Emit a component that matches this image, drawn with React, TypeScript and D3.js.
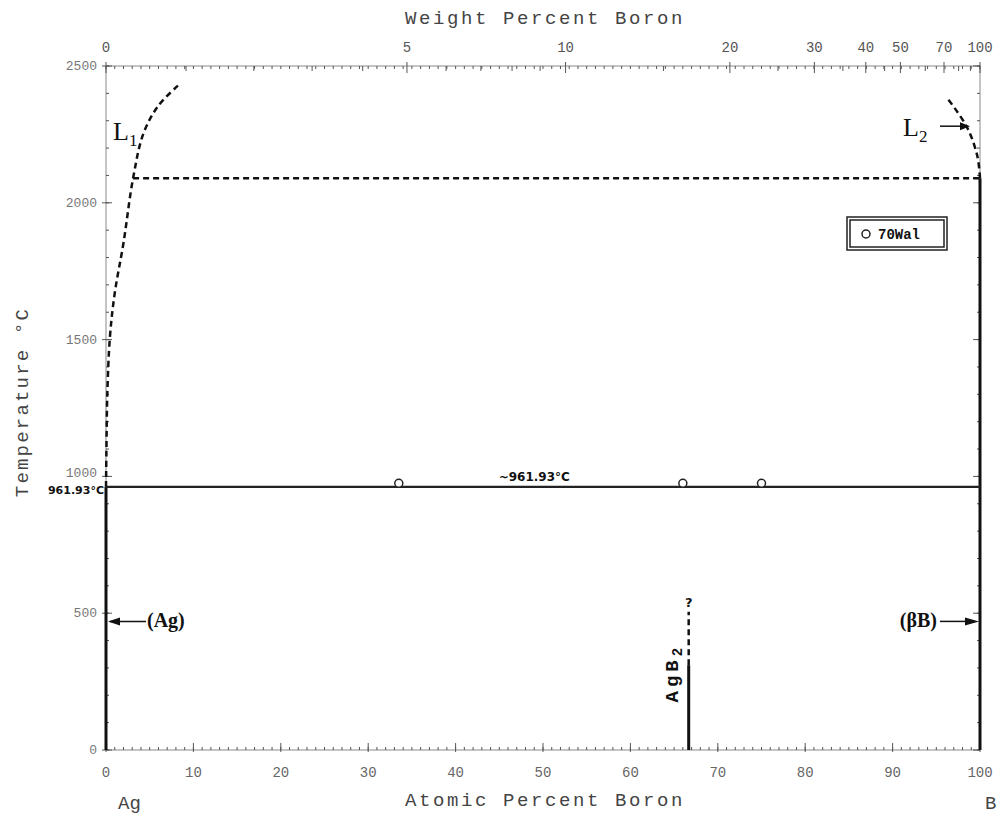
import React, { useEffect, useRef } from 'react';
import * as d3 from 'd3';

// atomic percent ticks (bottom)
const atTicks = [0, 10, 20, 30, 40, 50, 60, 70, 80, 90, 100];
// weight percent ticks (top)
const wtTicks = [0, 5, 10, 20, 30, 40, 50, 70, 100];
const wtMinor = [1, 2, 3, 4, 6, 7, 8, 9, 15, 25, 35, 45, 60, 80, 90];
const tempTicks = [0, 500, 1000, 1500, 2000, 2500];

// phase boundaries [at% B, °C]
const liquidusL1 = [[0, 961.93], [0.05, 1100], [0.15, 1300], [0.45, 1510], [1.0, 1670], [2.0, 1853], [3.1, 2090], [4.3, 2255], [6.0, 2355], [8.3, 2430]];
const liquidusL2 = [[100, 2090], [99.7, 2170], [98.5, 2277], [96.2, 2385]];
const monotectic = [[3.1, 2090], [100, 2090]];
const eutectic = [[0, 961.93], [100, 961.93]];
const agSolid = [[0, 0], [0, 961.93]];
const bSolid = [[100, 0], [100, 2090]];
const agb2Solid = [[66.67, 0], [66.67, 310]];
const agb2Dashed = [[66.67, 310], [66.67, 505]];
const wal70 = [[33.5, 975], [66, 975], [75, 975]];

const AG = 107.87, B = 10.81;
const wtToAt = (w: number) => {
  if (w >= 100) return 100;
  const b = w / B, a = (100 - w) / AG;
  return (100 * b) / (a + b);
};

const App = () => {
  const svgRef = useRef<SVGSVGElement>(null);

  useEffect(() => {
    const svg = d3.select(svgRef.current);
    svg.selectAll('*').remove();

    const x = d3.scaleLinear().domain([0, 100]).range([106, 980]);
    const y = d3.scaleLinear().domain([0, 2500]).range([750, 66]);
    const line = d3.line<number[]>().x(d => x(d[0])).y(d => y(d[1]));
    const curve = d3.line<number[]>().x(d => x(d[0])).y(d => y(d[1])).curve(d3.curveCatmullRom);
    const mono = 'Liberation Mono, monospace';
    const serif = 'Liberation Serif, serif';
    const gray = '#8a8a8a';

    // frame
    svg.append('rect')
      .attr('x', x(0)).attr('y', y(2500))
      .attr('width', x(100) - x(0)).attr('height', y(0) - y(2500))
      .attr('fill', 'none').attr('stroke', gray).attr('stroke-width', 1);

    // minor ticks
    const g = svg.append('g').attr('stroke', '#555').attr('stroke-width', 1);
    d3.range(0, 101, 1).forEach(v => {
      g.append('line').attr('x1', x(v)).attr('x2', x(v)).attr('y1', y(0)).attr('y2', y(0) - 3);
      g.append('line').attr('x1', x(v)).attr('x2', x(v)).attr('y1', y(2500)).attr('y2', y(2500) + 3);
    });
    d3.range(0, 2501, 100).forEach(v => {
      g.append('line').attr('x1', x(0)).attr('x2', x(0) + 3).attr('y1', y(v)).attr('y2', y(v));
      g.append('line').attr('x1', x(100)).attr('x2', x(100) - 3).attr('y1', y(v)).attr('y2', y(v));
    });
    atTicks.forEach(v => {
      g.append('line').attr('x1', x(v)).attr('x2', x(v)).attr('y1', y(0) + 2).attr('y2', y(0) - 7);
    });
    tempTicks.forEach(v => {
      g.append('line').attr('x1', x(0) - 4).attr('x2', x(0) + 6).attr('y1', y(v)).attr('y2', y(v));
      g.append('line').attr('x1', x(100)).attr('x2', x(100) - 7).attr('y1', y(v)).attr('y2', y(v));
    });
    wtTicks.forEach(v => {
      g.append('line').attr('x1', x(wtToAt(v))).attr('x2', x(wtToAt(v))).attr('y1', y(2500) - 4).attr('y2', y(2500) + 7);
    });
    wtMinor.forEach(v => {
      g.append('line').attr('x1', x(wtToAt(v))).attr('x2', x(wtToAt(v))).attr('y1', y(2500)).attr('y2', y(2500) + 5);
    });

    // tick labels
    svg.append('g').selectAll('text').data(atTicks).join('text')
      .attr('x', d => x(d)).attr('y', 777).attr('text-anchor', 'middle')
      .attr('font-family', mono).attr('font-size', 14).attr('fill', '#666').text(d => d);
    svg.append('g').selectAll('text').data(tempTicks).join('text')
      .attr('x', 97).attr('y', d => y(d) + (d === 1000 ? 1 : 4)).attr('text-anchor', 'end')
      .attr('font-family', mono).attr('font-size', 13).attr('fill', '#777').text(d => d);
    svg.append('g').selectAll('text').data(wtTicks).join('text')
      .attr('x', d => x(wtToAt(d))).attr('y', 52).attr('text-anchor', 'middle')
      .attr('font-family', mono).attr('font-size', 14).attr('fill', '#555').text(d => d);

    // axis titles
    svg.append('text').attr('x', 545).attr('y', 24).attr('text-anchor', 'middle')
      .attr('font-family', mono).attr('font-size', 19).attr('letter-spacing', 2.6)
      .attr('fill', '#444').text('Weight Percent Boron');
    svg.append('text').attr('x', 545).attr('y', 806).attr('text-anchor', 'middle')
      .attr('font-family', mono).attr('font-size', 19).attr('letter-spacing', 2.6)
      .attr('fill', '#444').text('Atomic Percent Boron');
    svg.append('text').attr('transform', 'translate(28,402) rotate(-90)').attr('text-anchor', 'middle')
      .attr('font-family', mono).attr('font-size', 19).attr('letter-spacing', 2.2)
      .attr('fill', '#444').text('Temperature °C');
    svg.append('text').attr('x', 118).attr('y', 809).attr('font-family', mono).attr('font-size', 19)
      .attr('fill', '#444').text('Ag');
    svg.append('text').attr('x', 985).attr('y', 809).attr('font-family', mono).attr('font-size', 19)
      .attr('fill', '#444').text('B');

    // phase lines
    const solid = [agSolid, bSolid, agb2Solid];
    solid.forEach(d => svg.append('path').attr('d', line(d)).attr('stroke', '#111').attr('stroke-width', 3).attr('fill', 'none'));
    svg.append('path').attr('d', line(eutectic)).attr('stroke', '#222').attr('stroke-width', 2.2).attr('fill', 'none');
    [monotectic, agb2Dashed].forEach(d => svg.append('path').attr('d', line(d))
      .attr('stroke', '#111').attr('stroke-width', 2.5).attr('stroke-dasharray', '6,4').attr('fill', 'none'));
    [liquidusL1, liquidusL2].forEach(d => svg.append('path').attr('d', curve(d))
      .attr('stroke', '#111').attr('stroke-width', 2.5).attr('stroke-dasharray', '6,4').attr('fill', 'none'));

    // data points 70Wal
    svg.append('g').selectAll('circle').data(wal70).join('circle')
      .attr('cx', d => x(d[0])).attr('cy', d => y(d[1])).attr('r', 4)
      .attr('fill', 'white').attr('stroke', '#222').attr('stroke-width', 1.5);

    // labels
    const label = (tx: number, ty: number, s: string, size = 13, anchor = 'start') =>
      svg.append('text').attr('x', tx).attr('y', ty).attr('text-anchor', anchor)
        .attr('font-family', 'DejaVu Sans, sans-serif').attr('font-weight', 'bold')
        .attr('font-size', size).attr('fill', '#111').text(s);
    label(x(0) - 2, y(961.93) + 7, '961.93°C', 11, 'end');
    label(x(49), y(961.93) - 6, '~961.93°C', 12, 'middle');

    const big = (tx: number, ty: number, main: string, sub: string) => {
      const t = svg.append('text').attr('x', tx).attr('y', ty).attr('font-family', serif)
        .attr('font-size', 26).attr('fill', '#111');
      t.append('tspan').text(main);
      t.append('tspan').attr('font-size', 17).attr('dy', 6).text(sub);
    };
    big(113, 140, 'L', '1');
    big(903, 136, 'L', '2');
    // L2 arrow
    svg.append('line').attr('x1', 940).attr('x2', 962).attr('y1', y(2280)).attr('y2', y(2280))
      .attr('stroke', '#111').attr('stroke-width', 1.5);
    svg.append('path').attr('d', `M${970},${y(2280)} l-10,-4 l0,8 z`).attr('fill', '#111');

    // (Ag) and (βB) arrows
    const tArrow = 470;
    svg.append('line').attr('x1', x(0) + 4).attr('x2', 146).attr('y1', y(tArrow)).attr('y2', y(tArrow))
      .attr('stroke', '#111').attr('stroke-width', 1.5);
    svg.append('path').attr('d', `M${x(0) + 2},${y(tArrow)} l12,-4 l0,8 z`).attr('fill', '#111');
    svg.append('text').attr('x', 147).attr('y', y(tArrow) + 6).attr('font-family', serif)
      .attr('font-weight', 'bold').attr('font-size', 20).attr('fill', '#111').text('(Ag)');
    svg.append('text').attr('x', 937).attr('y', y(tArrow) + 6).attr('text-anchor', 'end').attr('font-family', serif)
      .attr('font-weight', 'bold').attr('font-size', 20).attr('fill', '#111').text('(βB)');
    svg.append('line').attr('x1', 940).attr('x2', x(100) - 8).attr('y1', y(tArrow)).attr('y2', y(tArrow))
      .attr('stroke', '#111').attr('stroke-width', 1.5);
    svg.append('path').attr('d', `M${x(100) - 1},${y(tArrow)} l-14,-4 l0,8 z`).attr('fill', '#111');

    // AgB2
    const ag = svg.append('text').attr('transform', `translate(${x(66.67) - 11},${y(281)}) rotate(-90)`)
      .attr('text-anchor', 'middle').attr('font-family', mono).attr('font-weight', 'bold')
      .attr('font-size', 19).attr('letter-spacing', 4).attr('fill', '#111');
    ag.append('tspan').text('AgB');
    ag.append('tspan').attr('font-size', 14).attr('dy', 4).text('2');
    label(x(66.67), y(540) + 5, '?', 13, 'middle');

    // legend
    svg.append('rect').attr('x', 847).attr('y', 217).attr('width', 100).attr('height', 33)
      .attr('fill', 'white').attr('stroke', '#222').attr('stroke-width', 1.5);
    svg.append('rect').attr('x', 850).attr('y', 220).attr('width', 94).attr('height', 27)
      .attr('fill', 'none').attr('stroke', '#222').attr('stroke-width', 1.5);
    svg.append('circle').attr('cx', 866).attr('cy', 234).attr('r', 4)
      .attr('fill', 'white').attr('stroke', '#222').attr('stroke-width', 1.5);
    svg.append('text').attr('x', 878).attr('y', 239).attr('font-family', mono).attr('font-weight', 'bold')
      .attr('font-size', 14).attr('fill', '#111').text('70Wal');
  }, []);

  return (
    <svg ref={svgRef} width={1001} height={816}
      style={{ position: 'absolute', left: 0, top: 0, background: 'white' }} />
  );
};

export default App;
